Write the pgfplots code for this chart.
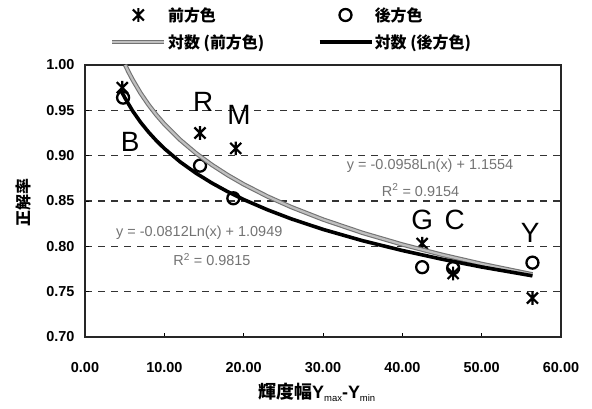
\documentclass[border=0pt]{standalone}
\usepackage{fontspec}
\setmainfont{Liberation Sans}
\newfontfamily\jp{Noto Sans CJK JP}
\usepackage{pgfplots}
\pgfplotsset{compat=1.18}

\pgfdeclareplotmark{xstar}{%
  \pgfpathmoveto{\pgfpoint{-0.85\pgfplotmarksize}{-0.85\pgfplotmarksize}}%
  \pgfpathlineto{\pgfpoint{0.85\pgfplotmarksize}{0.85\pgfplotmarksize}}%
  \pgfpathmoveto{\pgfpoint{-0.85\pgfplotmarksize}{0.85\pgfplotmarksize}}%
  \pgfpathlineto{\pgfpoint{0.85\pgfplotmarksize}{-0.85\pgfplotmarksize}}%
  \pgfpathmoveto{\pgfpoint{0pt}{-1.05\pgfplotmarksize}}%
  \pgfpathlineto{\pgfpoint{0pt}{1.05\pgfplotmarksize}}%
  \pgfusepathqstroke}

\pgfplotsset{
  markleg/.style={legend image code/.code={\draw[##1] plot coordinates {(26bp,0bp)};}},
  lineleg/.style={legend image code/.code={\draw[##1] (0bp,0bp) -- (52bp,0bp);}},
}

\begin{document}
\begin{tikzpicture}[x=1bp,y=1bp]
\path[use as bounding box] (0,0) rectangle (592,408);
\begin{axis}[
  at={(85bp,71bp)}, anchor=south west,
  scale only axis, width=476bp, height=272bp,
  xmin=0, xmax=60, ymin=0.70, ymax=1.00,
  xtick={0,10,20,30,40,50,60},
  ytick={0.70,0.75,0.80,0.85,0.90,0.95,1.00},
  xtick pos=bottom, ytick pos=left,
  tick align=inside, major tick length=4bp,
  tick style={black, line width=1bp},
  axis line style={black!85, line width=1.4bp},
  ymajorgrids,
  grid style={black!80, line width=1.2bp, dash pattern=on 7bp off 6bp},
  /pgf/number format/assume math mode=true,
  /pgf/number format/fixed,
  /pgf/number format/fixed zerofill,
  /pgf/number format/precision=2,
  ticklabel style={font=\fontsize{14.5}{15}\selectfont\bfseries},
  xticklabel style={yshift=-22bp},
  yticklabel style={xshift=-7bp},
  xlabel={{\jp\bfseries 輝度幅}\textbf{Y}{\fontsize{9.5}{9.5}\selectfont\raisebox{-3bp}{max}}\textbf{-Y}{\fontsize{9.5}{9.5}\selectfont\raisebox{-3bp}{min}}},
  xlabel style={at={(axis description cs:0.487,-0.205)}, anchor=center, font=\fontsize{18}{19}\selectfont},
  ylabel={\jp\bfseries 正解率},
  ylabel style={at={(axis description cs:-0.13,0.496)}, anchor=center, font=\fontsize{16}{17}\selectfont},
  clip mode=individual,
  legend columns=2,
  legend cell align=left,
  legend style={at={(axis description cs:0.0525,1.218)}, anchor=north west,
    draw=none, fill=none, inner sep=0pt,
    font=\fontsize{16}{17}\jp\bfseries,
    nodes={inner sep=1.5bp},
    row sep=9bp,
    /tikz/every even column/.append style={column sep=52bp}},
]
% 前方色 (star marks)
\addplot[only marks, mark=xstar, mark size=6.5bp, black, line width=2.2bp, markleg]
  coordinates {(4.7,0.975) (14.5,0.925) (19.0,0.908) (42.5,0.803) (46.4,0.770) (56.4,0.743)};
\addlegendentry{前方色}
% 後方色 (circles)
\addplot[only marks, mark=o, mark size=6bp, black, line width=2.3bp, mark options={fill=white}, markleg]
  coordinates {(4.8,0.964) (14.5,0.889) (18.7,0.853) (42.5,0.777) (46.4,0.776) (56.4,0.782)};
\addlegendentry{後方色}
% 対数 (前方色): y = -0.0958 ln(x) + 1.1554
\addplot[draw=black!55, line width=1.1bp, double=black!25, double distance=2.2bp, no marks, lineleg]
  coordinates {(5.06,1.0000) (5.5,0.9921) (6,0.9838) (7,0.9690) (8,0.9562) (9,0.9449) (10,0.9348)
   (12,0.9174) (14,0.9026) (16,0.8898) (18,0.8785) (20,0.8684) (23,0.8550) (26,0.8433)
   (30,0.8296) (35,0.8148) (40,0.8020) (45,0.7907) (50,0.7806) (56.4,0.7691)};
\addlegendentry{対数 (前方色)}
% 対数 (後方色): y = -0.0812 ln(x) + 1.0949
\addplot[black, line width=3.6bp, no marks, lineleg]
  coordinates {(4.7,0.9692) (5,0.9642) (6,0.9494) (7,0.9369) (8,0.9261) (9,0.9165) (10,0.9079)
   (12,0.8931) (14,0.8806) (16,0.8698) (18,0.8602) (20,0.8516) (23,0.8403) (26,0.8303)
   (30,0.8187) (35,0.8062) (40,0.7954) (45,0.7858) (50,0.7772) (56.4,0.7675)};
\addlegendentry{対数 (後方色)}

% letters
\begin{scope}[every node/.style={font=\fontsize{28}{28}\selectfont, inner sep=0pt}]
\node at (axis cs:5.7,0.915) {B};
\node at (axis cs:14.9,0.959) {R};
\node at (axis cs:19.4,0.945) {M};
\node at (axis cs:42.5,0.829) {G};
\node at (axis cs:46.6,0.829) {C};
\node at (axis cs:56.1,0.815) {Y};
\end{scope}
% equations
\begin{scope}[every node/.style={font=\fontsize{14.5}{15}\selectfont, text=black!55, inner sep=0pt}]
\node at (axis cs:43.5,0.8886) {y = -0.0958Ln(x) + 1.1554};
\node at (axis cs:42.3,0.862) {R\textsuperscript{2} = 0.9154};
\node at (axis cs:14.4,0.8147) {y = -0.0812Ln(x) + 1.0949};
\node at (axis cs:16.0,0.785) {R\textsuperscript{2} = 0.9815};
\end{scope}
\end{axis}
\end{tikzpicture}
\end{document}
